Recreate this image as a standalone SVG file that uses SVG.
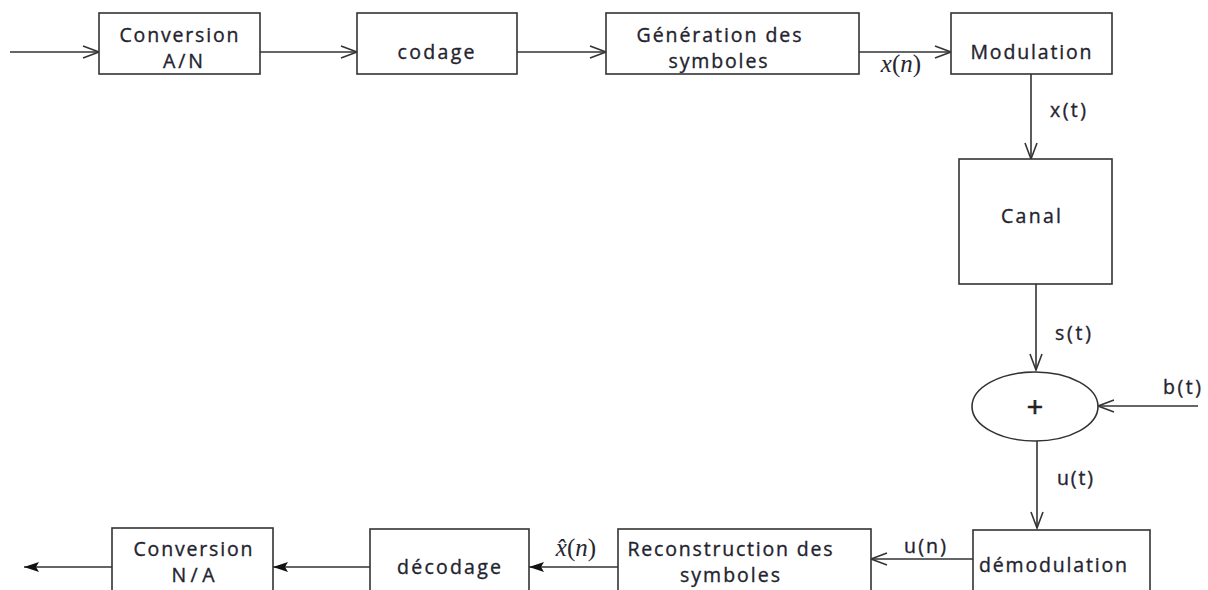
<svg xmlns="http://www.w3.org/2000/svg" width="1208" height="590" viewBox="0 0 1208 590">
  <style>
    .box { fill: #ffffff; stroke: #333333; stroke-width: 1.6; }
    .wire { fill: none; stroke: #333333; stroke-width: 1.6; }
    .lbl { font-family: "Open Sans", "Noto Sans", sans-serif; font-size: 19.5px; fill: #23232e; stroke: #23232e; stroke-width: 0.35; text-anchor: middle; }
    .math { font-family: "Liberation Serif", "DejaVu Serif", serif; font-size: 25px; fill: #262630; text-anchor: middle; }
    .plus { font-family: "Liberation Sans", sans-serif; font-size: 28px; fill: #222222; stroke: #222222; stroke-width: 0.6; text-anchor: middle; }
  </style>
  <defs>
    <!-- open "V" arrowhead -->
    <marker id="open" markerUnits="userSpaceOnUse" markerWidth="20" markerHeight="16" refX="17" refY="7" orient="auto">
      <path d="M1,1 L17,7 L1,13" fill="none" stroke="#333333" stroke-width="1.6"/>
    </marker>
    <!-- filled triangle arrowhead -->
    <marker id="solid" markerUnits="userSpaceOnUse" markerWidth="16" markerHeight="12" refX="15" refY="6" orient="auto">
      <path d="M0,1 L15,6 L0,11 L3,6 Z" fill="#111111"/>
    </marker>
  </defs>

  <g id="connectors">
    <line class="wire" x1="10" y1="52" x2="99" y2="52" marker-end="url(#open)"/>
    <line class="wire" x1="260" y1="52" x2="357" y2="52" marker-end="url(#open)"/>
    <line class="wire" x1="517" y1="52" x2="606" y2="52" marker-end="url(#open)"/>
    <line class="wire" x1="859" y1="52" x2="951" y2="52" marker-end="url(#open)"/>
    <line class="wire" x1="1031" y1="74" x2="1031" y2="159" marker-end="url(#open)"/>
    <line class="wire" x1="1036" y1="284" x2="1036" y2="370" marker-end="url(#open)"/>
    <line class="wire" x1="1198" y1="406" x2="1098" y2="406" marker-end="url(#open)"/>
    <line class="wire" x1="1037" y1="441" x2="1037" y2="528" marker-end="url(#open)"/>
    <line class="wire" x1="973" y1="559" x2="871" y2="559" marker-end="url(#open)"/>
    <line class="wire" x1="618" y1="567" x2="529" y2="567" marker-end="url(#solid)"/>
    <line class="wire" x1="370" y1="567" x2="273" y2="567" marker-end="url(#solid)"/>
    <line class="wire" x1="112" y1="567" x2="24" y2="567" marker-end="url(#solid)"/>

    <text class="math" x="901" y="72"><tspan font-style="italic">x</tspan>(<tspan font-style="italic">n</tspan>)</text>
    <text class="lbl" x="1068" y="117" textLength="36" lengthAdjust="spacing">x(t)</text>
    <text class="lbl" x="1073" y="340" textLength="36" lengthAdjust="spacing">s(t)</text>
    <text class="lbl" x="1182" y="394" textLength="38" lengthAdjust="spacing">b(t)</text>
    <text class="lbl" x="1075" y="485" textLength="36" lengthAdjust="spacing">u(t)</text>
    <text class="lbl" x="925" y="553" textLength="42" lengthAdjust="spacing">u(n)</text>
    <text class="math" x="576" y="556"><tspan font-style="italic">x̂</tspan>(<tspan font-style="italic">n</tspan>)</text>
  </g>

  <g id="conversion-an">
    <rect class="box" x="99" y="13" width="161" height="61"/>
    <text class="lbl" x="179" y="42" textLength="119" lengthAdjust="spacing">Conversion</text>
    <text class="lbl" x="183" y="68" textLength="40" lengthAdjust="spacing">A/N</text>
  </g>

  <g id="codage">
    <rect class="box" x="357" y="13" width="160" height="61"/>
    <text class="lbl" x="436" y="59" textLength="77" lengthAdjust="spacing">codage</text>
  </g>

  <g id="generation">
    <rect class="box" x="606" y="13" width="253" height="61"/>
    <text class="lbl" x="719" y="42" textLength="165" lengthAdjust="spacing">Génération des</text>
    <text class="lbl" x="718" y="68" textLength="99" lengthAdjust="spacing">symboles</text>
  </g>

  <g id="modulation">
    <rect class="box" x="951" y="13" width="161" height="61"/>
    <text class="lbl" x="1031" y="59" textLength="121" lengthAdjust="spacing">Modulation</text>
  </g>

  <g id="canal">
    <rect class="box" x="959" y="159" width="153" height="125"/>
    <text class="lbl" x="1031" y="223" textLength="60" lengthAdjust="spacing">Canal</text>
  </g>

  <g id="sommateur">
    <ellipse class="box" cx="1035" cy="406.5" rx="63" ry="34.5"/>
    <text class="plus" x="1035" y="416">+</text>
  </g>

  <g id="demodulation">
    <rect class="box" x="973" y="530" width="177" height="70"/>
    <text class="lbl" x="1053" y="572" textLength="148" lengthAdjust="spacing">démodulation</text>
  </g>

  <g id="reconstruction">
    <rect class="box" x="618" y="529" width="253" height="71"/>
    <text class="lbl" x="730" y="556" textLength="205" lengthAdjust="spacing">Reconstruction des</text>
    <text class="lbl" x="730" y="582" textLength="100" lengthAdjust="spacing">symboles</text>
  </g>

  <g id="decodage">
    <rect class="box" x="370" y="529" width="159" height="71"/>
    <text class="lbl" x="449" y="574" textLength="104" lengthAdjust="spacing">décodage</text>
  </g>

  <g id="conversion-na">
    <rect class="box" x="112" y="528" width="161" height="72"/>
    <text class="lbl" x="193" y="556" textLength="119" lengthAdjust="spacing">Conversion</text>
    <text class="lbl" x="193" y="582" textLength="43" lengthAdjust="spacing">N/A</text>
  </g>
</svg>
